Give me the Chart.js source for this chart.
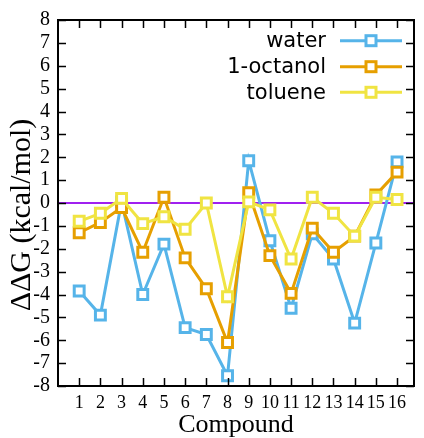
<!DOCTYPE html>
<html>
<head>
<meta charset="utf-8">
<script src="https://cdn.jsdelivr.net/npm/chart.js@4"></script>
<style>
  html, body { margin: 0; padding: 0; background: #fff; }
  #wrap { width: 424px; height: 438px; }
</style>
</head>
<body>
<div id="wrap"><canvas id="chart" width="424" height="438"></canvas></div>
<script>
// data
const compounds = [1, 2, 3, 4, 5, 6, 7, 8, 9, 10, 11, 12, 13, 14, 15, 16];
const water   = [-3.85, -4.9, 0.05, -4.0, -1.8, -5.45, -5.75, -7.55, 1.85, -1.65, -4.6, -1.35, -2.45, -5.25, -1.75, 1.8];
const octanol = [-1.3, -0.85, -0.2, -2.15, 0.25, -2.4, -3.75, -6.1, 0.45, -2.3, -3.95, -1.1, -2.15, -1.45, 0.35, 1.35];
const toluene = [-0.8, -0.45, 0.2, -0.9, -0.6, -1.15, 0.0, -4.1, 0.05, -0.3, -2.45, 0.25, -0.45, -1.45, 0.25, 0.15];
const yTicks = [-8, -7, -6, -5, -4, -3, -2, -1, 0, 1, 2, 3, 4, 5, 6, 7, 8];

const serif = 'Liberation Serif';

function series(label, values, color, order) {
    return {
        label: label,
        data: compounds.map((c, i) => ({x: c, y: values[i]})),
        borderColor: color,
        borderWidth: 3,
        pointStyle: 'rect',
        pointRadius: 7,
        pointBorderWidth: 3,
        pointBorderColor: color,
        pointBackgroundColor: '#ffffff',
        order: order
    };
}

// zero line under the data
const zeroPlugin = {
    id: 'zero',
    beforeDatasetsDraw(chart) {
        const ctx = chart.ctx;
        const a = chart.chartArea;
        const py = Math.round(chart.scales.y.getPixelForValue(0));
        ctx.save();
        ctx.strokeStyle = '#A020F0';
        ctx.lineWidth = 2;
        ctx.beginPath();
        ctx.moveTo(a.left, py); ctx.lineTo(a.right, py);
        ctx.stroke();
        ctx.restore();
    }
};

// frame, inward ticks, axis titles and the legend inside the plot
const framePlugin = {
    id: 'frame',
    afterDraw(chart) {
        const ctx = chart.ctx;
        const a = chart.chartArea;
        const xs = chart.scales.x, ys = chart.scales.y;
        ctx.save();
        ctx.strokeStyle = '#000';
        ctx.lineWidth = 1.5;
        ctx.beginPath();
        compounds.forEach(c => {
            const px = Math.round(xs.getPixelForValue(c)) + 0.5;
            ctx.moveTo(px, a.bottom); ctx.lineTo(px, a.bottom - 8);
            ctx.moveTo(px, a.top); ctx.lineTo(px, a.top + 8);
        });
        yTicks.forEach(v => {
            const py = Math.round(ys.getPixelForValue(v)) + 0.5;
            ctx.moveTo(a.left, py); ctx.lineTo(a.left + 8, py);
            ctx.moveTo(a.right, py); ctx.lineTo(a.right - 8, py);
        });
        ctx.stroke();
        ctx.lineWidth = 2;
        ctx.strokeRect(a.left, a.top, a.right - a.left, a.bottom - a.top);

        // axis titles
        ctx.fillStyle = '#000';
        ctx.textAlign = 'center';
        ctx.textBaseline = 'middle';
        ctx.font = '26px "' + serif + '"';
        ctx.fillText('Compound', (a.left + a.right) / 2, 425);
        ctx.font = '30px "' + serif + '"';
        ctx.translate(22, 215);
        ctx.rotate(-Math.PI / 2);
        ctx.fillText('ΔΔG (kcal/mol)', 0, 0);
        ctx.restore();

        // legend
        ctx.save();
        ctx.font = '21px "DejaVu Sans"';
        ctx.textAlign = 'right';
        ctx.textBaseline = 'middle';
        const rows = [40.7, 66.7, 92.3];
        chart.data.datasets.forEach((ds, i) => {
            const y = rows[i];
            ctx.fillStyle = '#000';
            ctx.fillText(ds.label, 326, y + 1);
            ctx.strokeStyle = ds.borderColor;
            ctx.lineWidth = 3;
            ctx.beginPath();
            ctx.moveTo(340, y); ctx.lineTo(402, y);
            ctx.stroke();
            ctx.fillStyle = '#fff';
            ctx.fillRect(366, y - 5, 10, 10);
            ctx.strokeRect(366, y - 5, 10, 10);
        });
        ctx.restore();
    }
};

new Chart(document.getElementById('chart'), {
    type: 'line',
    data: {
        datasets: [
            series('water', water, '#56B4E9', 2),
            series('1-octanol', octanol, '#E69F00', 1),
            series('toluene', toluene, '#F0E442', 0)
        ]
    },
    options: {
        responsive: false,
        animation: false,
        layout: { padding: { top: 20, right: 2, left: 0, bottom: 0 } },
        plugins: { legend: { display: false }, tooltip: { enabled: false } },
        scales: {
            x: {
                type: 'linear',
                min: 0,
                max: 16.8,
                afterBuildTicks(scale) { scale.ticks = compounds.map(v => ({value: v})); },
                afterFit(scale) { scale.height = 52; },
                grid: { display: false, drawTicks: false },
                border: { display: false },
                ticks: {
                    autoSkip: false,
                    maxRotation: 0,
                    padding: 6,
                    color: '#000',
                    font: { family: serif, size: 18 }
                }
            },
            y: {
                min: -8,
                max: 8,
                afterBuildTicks(scale) { scale.ticks = yTicks.map(v => ({value: v})); },
                afterFit(scale) { scale.width = 58; },
                grid: { display: false, drawTicks: false },
                border: { display: false },
                ticks: {
                    autoSkip: false,
                    padding: 8,
                    color: '#000',
                    font: { family: serif, size: 20 }
                }
            }
        }
    },
    plugins: [zeroPlugin, framePlugin]
});
</script>
</body>
</html>
